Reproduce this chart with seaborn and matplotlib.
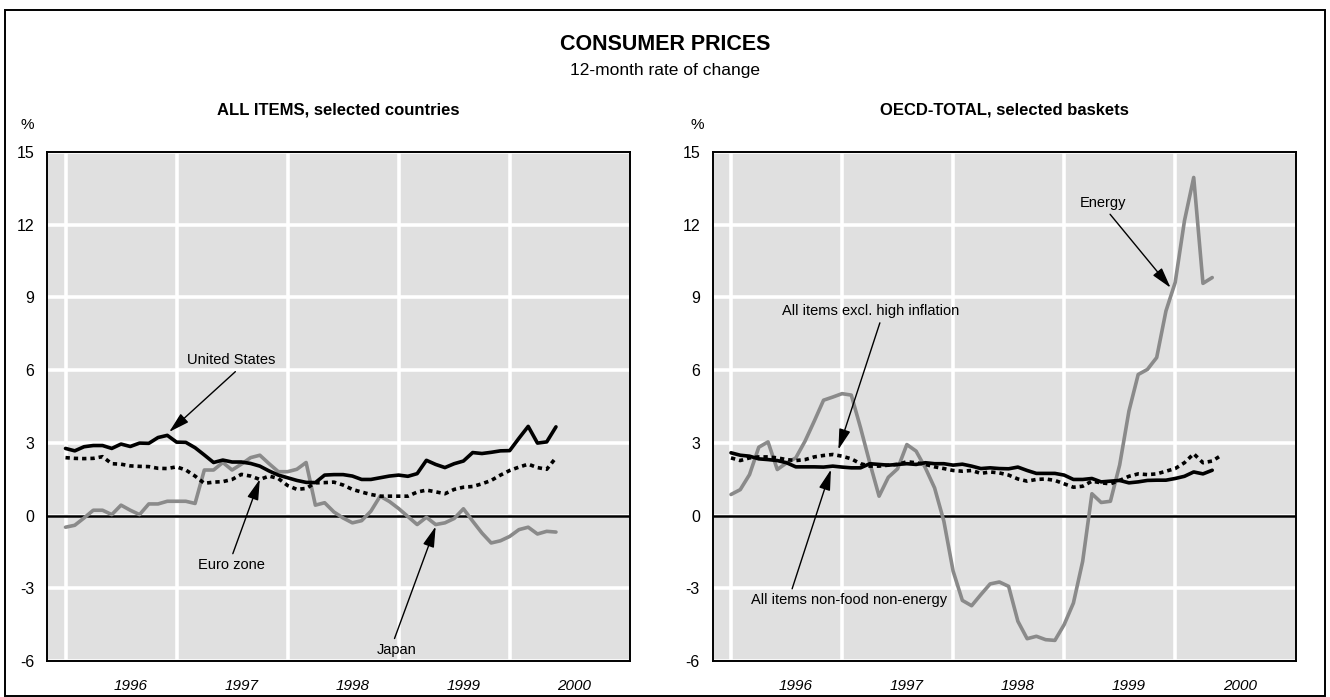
import numpy as np
import pandas as pd
import matplotlib
matplotlib.use('Agg')
import matplotlib.pyplot as plt
import seaborn as sns
from matplotlib.patches import Rectangle

# monthly data, Jan 1996 onwards (12-month rate of change, %)
years = ['1996', '1997', '1998', '1999', '2000']

us = [2.77, 2.67, 2.84, 2.89, 2.89, 2.77, 2.95, 2.85, 2.99, 2.98, 3.22, 3.31,
      3.03, 3.02, 2.80, 2.50, 2.19, 2.29, 2.21, 2.21, 2.15, 2.04, 1.84, 1.67,
      1.56, 1.45, 1.37, 1.36, 1.67, 1.69, 1.69, 1.63, 1.49, 1.49, 1.56, 1.63,
      1.67, 1.62, 1.73, 2.28, 2.11, 1.98, 2.14, 2.25, 2.60, 2.56, 2.61, 2.67,
      2.68, 3.19, 3.68, 2.99, 3.04, 3.66]
euro = [2.39, 2.36, 2.35, 2.36, 2.43, 2.14, 2.12, 2.05, 2.03, 2.02, 1.95, 1.94,
        2.01, 1.88, 1.63, 1.33, 1.38, 1.40, 1.49, 1.70, 1.63, 1.49, 1.63, 1.53,
        1.24, 1.08, 1.12, 1.35, 1.36, 1.38, 1.26, 1.08, 0.97, 0.87, 0.80, 0.80,
        0.80, 0.80, 0.97, 1.05, 0.98, 0.90, 1.08, 1.17, 1.20, 1.31, 1.45, 1.67,
        1.86, 2.00, 2.12, 1.98, 1.91, 2.39]
japan = [-0.48, -0.40, -0.10, 0.22, 0.22, 0.04, 0.43, 0.22, 0.04, 0.48, 0.48, 0.59,
         0.59, 0.59, 0.50, 1.88, 1.88, 2.19, 1.88, 2.12, 2.39, 2.49, 2.14, 1.81,
         1.81, 1.91, 2.19, 0.43, 0.53, 0.15, -0.10, -0.30, -0.21, 0.18, 0.80, 0.58,
         0.29, -0.04, -0.37, -0.07, -0.37, -0.30, -0.12, 0.28, -0.23, -0.72, -1.13, -1.04,
         -0.86, -0.58, -0.48, -0.76, -0.65, -0.68]

core = [2.59, 2.49, 2.45, 2.34, 2.31, 2.27, 2.18, 2.01, 2.01, 2.01, 2.00, 2.04,
        2.00, 1.97, 1.97, 2.14, 2.11, 2.08, 2.11, 2.14, 2.11, 2.18, 2.14, 2.14,
        2.08, 2.12, 2.04, 1.94, 1.97, 1.94, 1.93, 2.00, 1.86, 1.74, 1.74, 1.74,
        1.67, 1.49, 1.49, 1.53, 1.39, 1.42, 1.45, 1.35, 1.39, 1.45, 1.46, 1.46,
        1.53, 1.62, 1.80, 1.72, 1.87]
excl_high = [2.38, 2.27, 2.38, 2.42, 2.42, 2.38, 2.31, 2.27, 2.31, 2.42, 2.48, 2.52,
             2.45, 2.34, 2.14, 2.04, 2.04, 2.08, 2.11, 2.22, 2.18, 2.11, 2.01, 1.94,
             1.86, 1.83, 1.86, 1.74, 1.80, 1.76, 1.67, 1.51, 1.42, 1.49, 1.51, 1.45,
             1.31, 1.17, 1.21, 1.42, 1.35, 1.31, 1.45, 1.62, 1.72, 1.69, 1.72, 1.83,
             1.94, 2.18, 2.55, 2.18, 2.25, 2.49]
energy = [0.87, 1.07, 1.69, 2.82, 3.04, 1.90, 2.17, 2.38, 3.07, 3.90, 4.76, 4.89,
          5.03, 4.97, 3.62, 2.17, 0.80, 1.58, 1.93, 2.93, 2.66, 1.97, 1.14, -0.23,
          -2.29, -3.50, -3.72, -3.26, -2.82, -2.74, -2.92, -4.36, -5.08, -4.98, -5.12, -5.15,
          -4.50, -3.61, -1.89, 0.90, 0.54, 0.59, 2.09, 4.31, 5.82, 6.03, 6.52, 8.44,
          9.62, 12.16, 13.95, 9.58, 9.82]

GREY = '#8a8a8a'
DOT = (0, (1.2, 1.1))

sns.set_style('darkgrid', {'axes.facecolor': '#e0e0e0', 'grid.color': 'white',
                           'text.color': 'black', 'xtick.color': 'black', 'ytick.color': 'black'})
plt.rcParams['font.family'] = ['Liberation Sans Narrow', 'Liberation Sans']
plt.rcParams['axes.unicode_minus'] = False

fig = plt.figure(figsize=(13.3, 6.97), dpi=100)
ax1 = fig.add_axes([47 / 1330, 36 / 697, 583 / 1330, 509 / 697])
ax2 = fig.add_axes([712.5 / 1330, 36 / 697, 583 / 1330, 509 / 697])

left = pd.DataFrame({'month': np.arange(len(us)), 'us': us, 'euro': euro, 'japan': japan})
sns.lineplot(data=left, x='month', y='japan', ax=ax1, color=GREY, lw=2.6)
sns.lineplot(data=left, x='month', y='euro', ax=ax1, color='black', lw=2.6, linestyle=DOT)
sns.lineplot(data=left, x='month', y='us', ax=ax1, color='black', lw=2.6)

right = pd.DataFrame({'month': np.arange(len(excl_high)), 'excl': excl_high})
right['core'] = pd.Series(core)
right['energy'] = pd.Series(energy)
sns.lineplot(data=right, x='month', y='energy', ax=ax2, color=GREY, lw=2.6)
sns.lineplot(data=right, x='month', y='excl', ax=ax2, color='black', lw=2.6, linestyle=DOT)
sns.lineplot(data=right, x='month', y='core', ax=ax2, color='black', lw=2.6)

for ax in (ax1, ax2):
    ax.set_xlim(-2, 61)
    ax.set_ylim(-6, 15)
    ax.set_yticks(range(-6, 16, 3))
    ax.set_xticks([7, 19, 31, 43, 55])
    ax.set_xticklabels(years, fontstyle='italic', fontsize=11)
    ax.set_xticks([0, 12, 24, 36, 48], minor=True)
    ax.grid(False, axis='x', which='major')
    ax.grid(True, axis='x', which='minor', color='white', lw=2.6)
    ax.grid(True, axis='y', which='major', color='white', lw=2.6)
    ax.tick_params(which='both', length=0, labelcolor='black')
    ax.tick_params(axis='y', labelsize=11.5, pad=9)
    ax.tick_params(axis='x', pad=13)
    ax.axhline(0, color='black', lw=1.8, zorder=1.5)
    ax.set_xlabel('')
    ax.set_ylabel('')
    for s in ax.spines.values():
        s.set_visible(True)
        s.set_color('black')
        s.set_linewidth(1.4)


def arrow(rx, ry):
    return dict(arrowstyle='-|>,head_length=0.9,head_width=0.25', color='black', lw=1.0,
                mutation_scale=14, shrinkA=1, shrinkB=0, relpos=(rx, ry))


ax1.annotate('United States', xy=(11.2, 3.45), xytext=(17.9, 6.4), ha='center', va='center',
             fontsize=10.5, arrowprops=arrow(0.6, 0))
ax1.annotate('Euro zone', xy=(21, 1.5), xytext=(17.9, -2.05), ha='center', va='center',
             fontsize=10.5, arrowprops=arrow(0.5, 1))
ax1.annotate('Japan', xy=(40, -0.45), xytext=(35.8, -5.55), ha='center', va='center',
             fontsize=10.5, arrowprops=arrow(0.4, 1))
ax2.annotate('Energy', xy=(47.5, 9.4), xytext=(40.2, 12.9), ha='center', va='center',
             fontsize=10.5, arrowprops=arrow(0.55, 0.1))
ax2.annotate('All items excl. high inflation', xy=(11.6, 2.72), xytext=(15.1, 8.43),
             ha='center', va='center', fontsize=10.5, arrowprops=arrow(0.56, 0))
ax2.annotate('All items non-food non-energy', xy=(10.8, 1.9), xytext=(12.8, -3.5),
             ha='center', va='center', fontsize=10.5, arrowprops=arrow(0.2, 1))

fig.text(0.5, 1 - 45 / 697, 'CONSUMER PRICES', ha='center', va='center',
         fontsize=15.5, fontweight='bold')
fig.text(0.5, 1 - 70 / 697, '12-month rate of change', ha='center', va='center', fontsize=12.5)
fig.text(338 / 1330, 1 - 110 / 697, 'ALL ITEMS, selected countries', ha='center', va='center',
         fontsize=12, fontweight='bold')
fig.text(1004 / 1330, 1 - 110 / 697, 'OECD-TOTAL, selected baskets', ha='center', va='center',
         fontsize=12, fontweight='bold')
fig.text(27 / 1330, 1 - 125 / 697, '%', ha='center', va='center', fontsize=11)
fig.text(697 / 1330, 1 - 125 / 697, '%', ha='center', va='center', fontsize=11)

fig.patches.append(Rectangle((5 / 1330, 1 / 697), 1320 / 1330, 686 / 697, transform=fig.transFigure,
                             fill=False, edgecolor='black', lw=1.4))

fig.savefig('out.png', dpi=100)
